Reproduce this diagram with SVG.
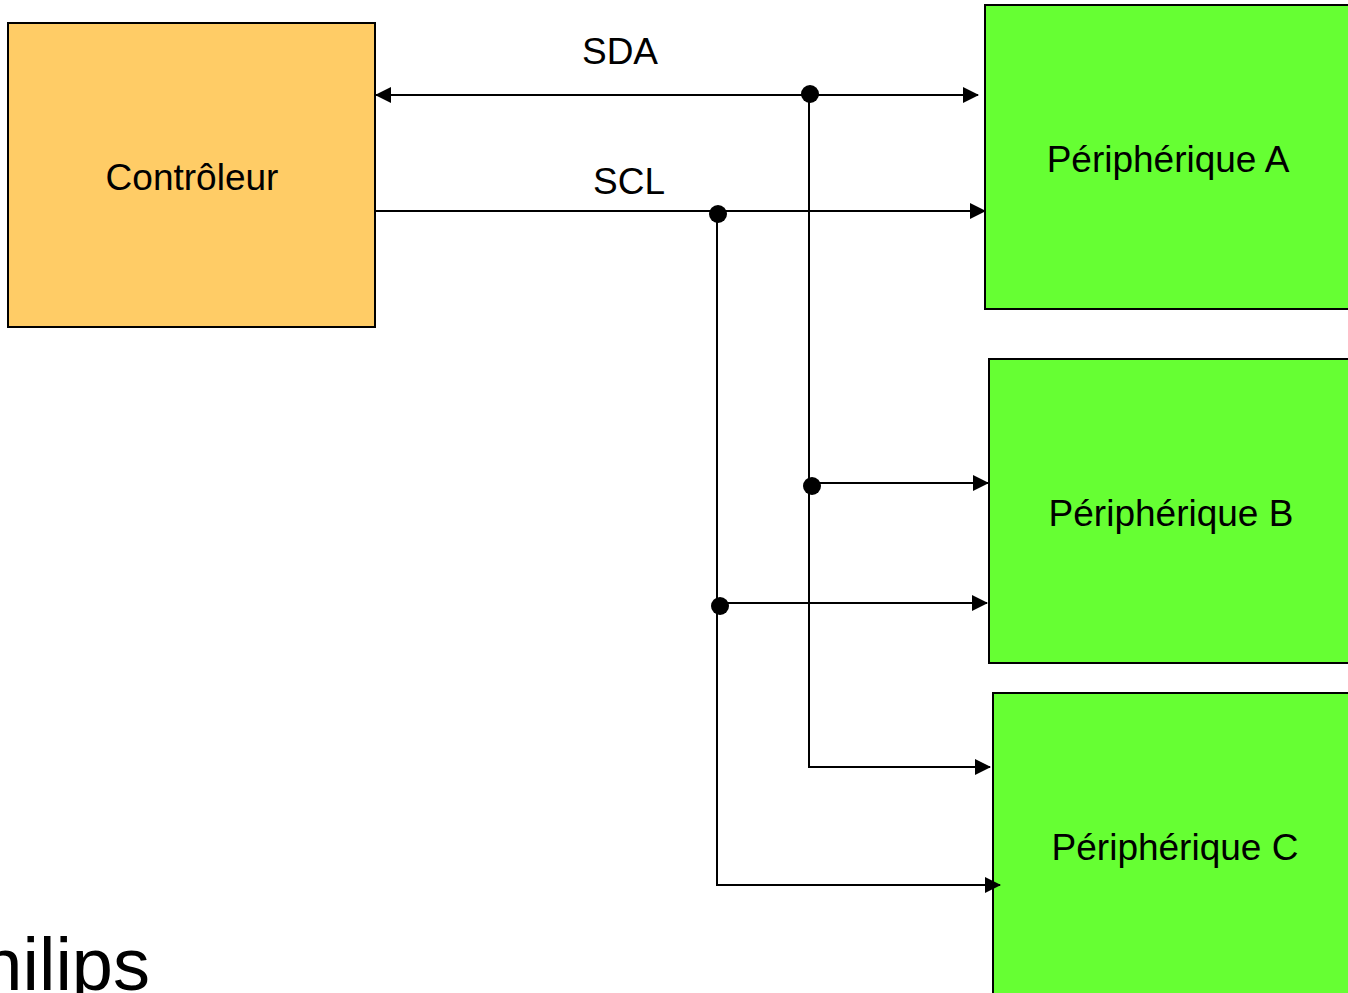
<svg xmlns="http://www.w3.org/2000/svg" width="1348" height="993" viewBox="0 0 1348 993">
  <style>
    .box { stroke: #000; stroke-width: 2; }
    .ctrl { fill: #FFCC66; }
    .dev { fill: #66FF33; }
    .lbl { font-family: "Liberation Sans", Arial, sans-serif; font-size: 37px; fill: #000; text-anchor: middle; }
    .wire { fill: none; stroke: #000; stroke-width: 2; }
    .dot { fill: #000; }
  </style>
  <defs>
    <marker id="arrow" viewBox="0 0 16 16" refX="15" refY="8" markerWidth="16" markerHeight="16" markerUnits="userSpaceOnUse" orient="auto-start-reverse">
      <path d="M0,0 L16,8 L0,16 Z" fill="#000"/>
    </marker>
  </defs>
  <rect width="1348" height="993" fill="#fff"/>

  <g id="controleur">
    <rect class="box ctrl" x="8" y="23" width="367" height="304"/>
    <text class="lbl" x="192" y="190">Contrôleur</text>
  </g>

  <g id="peripherique-a">
    <rect class="box dev" x="985" y="5" width="370" height="304"/>
    <text class="lbl" x="1168" y="172">Périphérique A</text>
  </g>

  <g id="peripherique-b">
    <rect class="box dev" x="989" y="359" width="370" height="304"/>
    <text class="lbl" x="1171" y="526">Périphérique B</text>
  </g>

  <g id="peripherique-c">
    <rect class="box dev" x="993" y="693" width="370" height="310"/>
    <text class="lbl" x="1175" y="860">Périphérique C</text>
  </g>

  <g id="connectors">
    <!-- SDA bus -->
    <line class="wire" x1="376" y1="95" x2="978" y2="95" marker-start="url(#arrow)" marker-end="url(#arrow)"/>
    <polyline class="wire" points="809,94 809,767 990,767" marker-end="url(#arrow)"/>
    <line class="wire" x1="812" y1="483" x2="988" y2="483" marker-end="url(#arrow)"/>
    <circle class="dot" cx="810" cy="94" r="9"/>
    <circle class="dot" cx="812" cy="486" r="9"/>
    <!-- SCL bus -->
    <line class="wire" x1="375" y1="211" x2="985" y2="211" marker-end="url(#arrow)"/>
    <polyline class="wire" points="717,214 717,885 1000,885" marker-end="url(#arrow)"/>
    <line class="wire" x1="720" y1="603" x2="987" y2="603" marker-end="url(#arrow)"/>
    <circle class="dot" cx="718" cy="214" r="9"/>
    <circle class="dot" cx="720" cy="606" r="9"/>
  </g>

  <g id="labels">
    <text class="lbl" x="620" y="64">SDA</text>
    <text class="lbl" x="629" y="194">SCL</text>
    <text x="-68" y="990" font-family="Liberation Sans, Arial, sans-serif" font-size="74" fill="#000">Philips</text>
  </g>
</svg>
